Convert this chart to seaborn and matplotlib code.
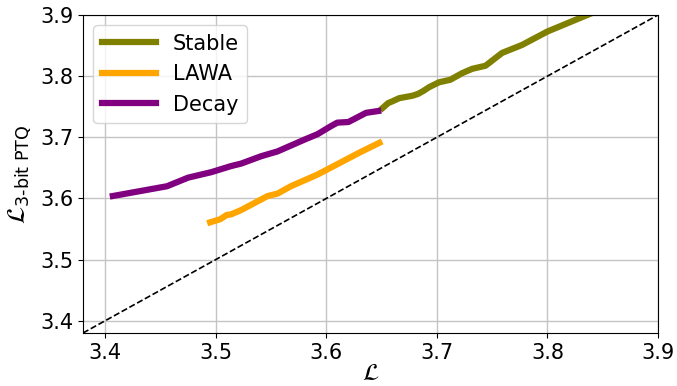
import matplotlib
matplotlib.use("Agg")
import matplotlib.pyplot as plt
import seaborn as sns
import numpy as np
import pandas as pd

stable_x = [3.651, 3.656, 3.660, 3.666, 3.672, 3.678, 3.683, 3.688, 3.693, 3.702,
            3.712, 3.723, 3.732, 3.744, 3.759, 3.777, 3.800, 3.836, 3.870]
stable_y = [3.748, 3.756, 3.759, 3.764, 3.766, 3.768, 3.771, 3.776, 3.782, 3.790,
            3.794, 3.805, 3.812, 3.817, 3.838, 3.851, 3.873, 3.900, 3.925]

lawa_x = [3.495, 3.504, 3.510, 3.514, 3.523, 3.547, 3.556, 3.568, 3.592, 3.610, 3.630, 3.648]
lawa_y = [3.561, 3.566, 3.573, 3.574, 3.581, 3.604, 3.608, 3.620, 3.639, 3.656, 3.675, 3.691]

decay_x = [3.407, 3.456, 3.475, 3.496, 3.514, 3.523, 3.541, 3.556, 3.580, 3.592,
           3.604, 3.610, 3.620, 3.636, 3.647]
decay_y = [3.604, 3.620, 3.634, 3.643, 3.653, 3.657, 3.669, 3.677, 3.696, 3.705,
           3.718, 3.724, 3.725, 3.740, 3.743]

lims = [3.38, 3.9]
ticks = [3.4, 3.5, 3.6, 3.7, 3.8, 3.9]

df = pd.concat([
    pd.DataFrame({"x": stable_x, "y": stable_y, "run": "Stable"}),
    pd.DataFrame({"x": lawa_x, "y": lawa_y, "run": "LAWA"}),
    pd.DataFrame({"x": decay_x, "y": decay_y, "run": "Decay"}),
])
palette = {"Stable": "olive", "LAWA": "orange", "Decay": "purple"}

fig, ax = plt.subplots(figsize=(6.77, 3.86), dpi=100)
sns.lineplot(data=df, x="x", y="y", hue="run", palette=palette, sort=False,
             estimator=None, linewidth=4.5, ax=ax)
ax.plot(lims, lims, "k--", linewidth=1.2)

ax.set_xlim(lims)
ax.set_ylim(lims)
ax.set_xticks(ticks)
ax.set_yticks(ticks)
ax.tick_params(labelsize=15)
ax.grid(True, color="#c4c4c4", linewidth=1)
ax.set_xlabel(r"$\mathcal{L}$", fontsize=17)
ax.xaxis.set_label_coords(0.5, -0.125)
ax.xaxis.label.set_va("center")
ax.set_ylabel(r"$\mathcal{L}_{\text{3-bit PTQ}}$", fontsize=18)
leg = ax.legend(fontsize=15, loc="upper left", handlelength=2.6)
for line in leg.get_lines():
    line.set_linewidth(4.5)

fig.subplots_adjust(left=83 / 677, right=658 / 677, top=1 - 15 / 386, bottom=1 - 333 / 386)
plt.savefig("out.png", dpi=100)
plt.close()
